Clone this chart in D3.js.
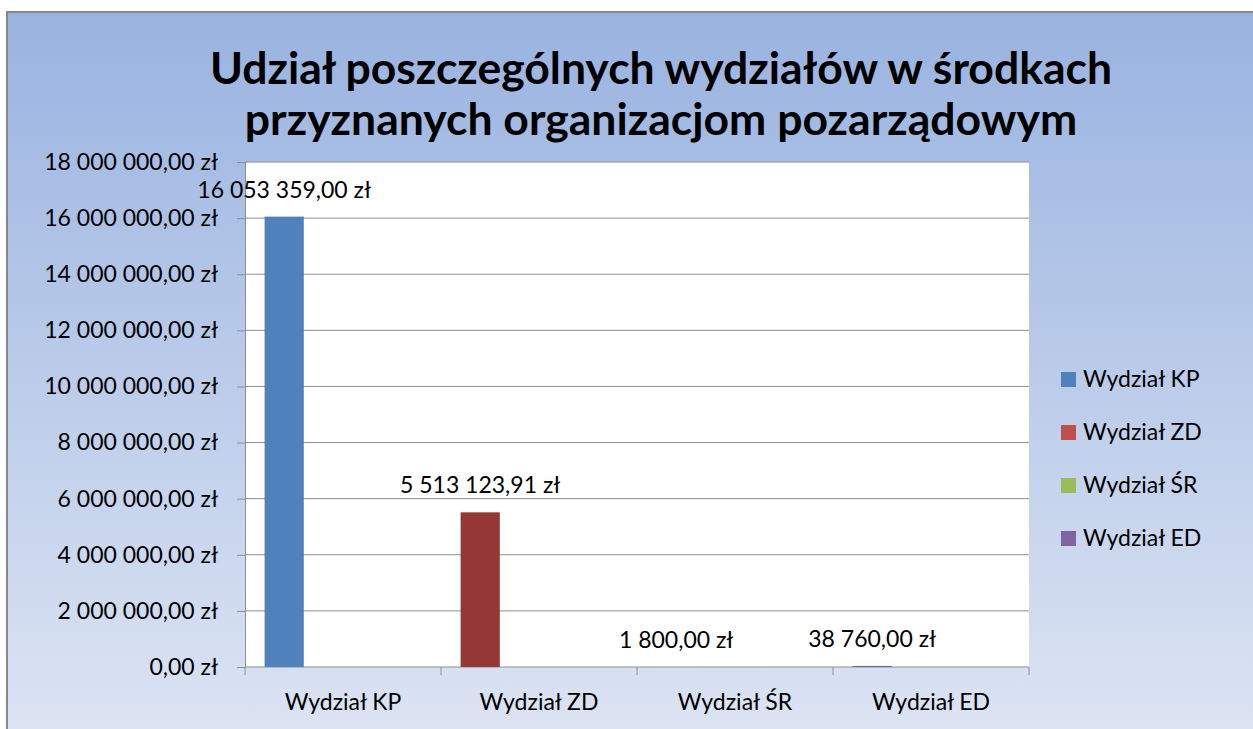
<!DOCTYPE html>
<html>
<head>
<meta charset="utf-8">
<script src="https://cdn.jsdelivr.net/npm/d3@7"></script>
<style>
    body { margin: 0; background: #fff; }
    text { font-family: Lato, "Noto Sans", sans-serif; }
</style>
</head>
<body>
<div id="chart"></div>
<script>
// data
const categories = ["Wydział KP", "Wydział ZD", "Wydział ŚR", "Wydział ED"];
const values = [16053359.00, 5513123.91, 1800.00, 38760.00];
const valueLabels = ["16 053 359,00 zł", "5 513 123,91 zł", "1 800,00 zł", "38 760,00 zł"];
const seriesNames = ["Wydział KP", "Wydział ZD", "Wydział ŚR", "Wydział ED"];
const yTicks = [0, 2000000, 4000000, 6000000, 8000000, 10000000, 12000000, 14000000, 16000000, 18000000];
const titleLines = ["Udział poszczególnych wydziałów w środkach", "przyznanych organizacjom pozarządowym"];

const barColors = ["#4f81bd", "#953735", "#9bbb59", "#8064a2"];
const legendColors = ["#4f81bd", "#c0504d", "#9bbb59", "#8064a2"];

const W = 1253, H = 729;
const margin = { top: 162, right: 224, bottom: 62, left: 245 };
const width = W - margin.left - margin.right;
const height = H - margin.top - margin.bottom;
const fontSize = 23;

const svg = d3.select("#chart").append("svg")
    .attr("width", W)
    .attr("height", H);

// background panel with gradient
const grad = svg.append("defs").append("linearGradient")
    .attr("id", "bg")
    .attr("x1", 0).attr("y1", 0).attr("x2", 0).attr("y2", 1);
grad.append("stop").attr("offset", "0%").attr("stop-color", "#99b3e0");
grad.append("stop").attr("offset", "100%").attr("stop-color", "#dfe6f4");

svg.append("rect")
    .attr("x", 7).attr("y", 12)
    .attr("width", W + 20).attr("height", H + 20)
    .attr("fill", "url(#bg)")
    .attr("stroke", "#878787")
    .attr("stroke-width", 2);

// title
svg.append("text")
    .attr("x", 661)
    .attr("y", 84)
    .attr("text-anchor", "middle")
    .attr("font-size", 44.5)
    .attr("font-weight", "bold")
    .selectAll("tspan")
    .data(titleLines)
    .enter()
    .append("tspan")
    .attr("x", 661)
    .attr("dy", (d, i) => i == 0 ? 0 : 51)
    .text(d => d);

const g = svg.append("g")
    .attr("transform", "translate(" + margin.left + "," + margin.top + ")");

g.append("rect")
    .attr("width", width)
    .attr("height", height)
    .attr("fill", "#fff");

// scales
const x = d3.scaleBand()
    .domain(categories)
    .range([0, width])
    .padding(0);

const x1 = d3.scaleBand()
    .domain(d3.range(seriesNames.length))
    .range([0, x.bandwidth()])
    .paddingInner(0)
    .paddingOuter(0.5);

const y = d3.scaleLinear()
    .domain([0, 18000000])
    .range([height, 0]);

// gridlines
g.selectAll(".grid")
    .data(yTicks.slice(1))
    .enter()
    .append("line")
    .attr("class", "grid")
    .attr("x1", 0).attr("x2", width)
    .attr("y1", d => y(d)).attr("y2", d => y(d))
    .attr("stroke", "#8e8e8e")
    .attr("stroke-width", 1);

// y axis
const yAxis = d3.axisLeft(y)
    .tickValues(yTicks)
    .tickSize(8)
    .tickPadding(19)
    .tickFormat(d => d3.format(",.2f")(d).replace(/,/g, " ").replace(".", ",") + " zł");

const yG = g.append("g").call(yAxis);
yG.select(".domain").attr("stroke", "#8e8e8e");
yG.selectAll(".tick line").attr("stroke", "#8e8e8e");
yG.selectAll(".tick text")
    .attr("font-size", fontSize)
    .attr("font-family", "Lato, sans-serif")
    .attr("fill", "#000");

// x axis, ticks on category boundaries
const xG = g.append("g")
    .attr("transform", "translate(0," + height + ")");
xG.append("line")
    .attr("x1", 0).attr("x2", width)
    .attr("stroke", "#8e8e8e");
xG.selectAll(".xtick")
    .data(categories.concat([null]))
    .enter()
    .append("line")
    .attr("class", "xtick")
    .attr("x1", (d, i) => i * x.bandwidth())
    .attr("x2", (d, i) => i * x.bandwidth())
    .attr("y1", 0).attr("y2", 8)
    .attr("stroke", "#8e8e8e");
xG.selectAll(".xlabel")
    .data(categories)
    .enter()
    .append("text")
    .attr("class", "xlabel")
    .attr("x", d => x(d) + x.bandwidth() / 2)
    .attr("y", 43)
    .attr("text-anchor", "middle")
    .attr("font-size", fontSize)
    .text(d => d);

// bars
g.selectAll(".bar")
    .data(values)
    .enter()
    .append("rect")
    .attr("class", "bar")
    .attr("x", (d, i) => x(categories[i]) + x1(0))
    .attr("width", x1.bandwidth())
    .attr("y", d => y(d))
    .attr("height", d => height - y(d))
    .attr("fill", (d, i) => barColors[i]);

// data labels
g.selectAll(".value-label")
    .data(values)
    .enter()
    .append("text")
    .attr("class", "value-label")
    .attr("x", (d, i) => x(categories[i]) + x1(0) + x1.bandwidth() / 2)
    .attr("y", d => y(d) - 19)
    .attr("text-anchor", "middle")
    .attr("font-size", fontSize)
    .text((d, i) => valueLabels[i]);

// legend
const legend = svg.append("g")
    .attr("transform", "translate(1061,379)");

legend.selectAll("rect")
    .data(seriesNames)
    .enter()
    .append("rect")
    .attr("x", 0)
    .attr("y", (d, i) => i * 53 - 7)
    .attr("width", 15)
    .attr("height", 15)
    .attr("fill", (d, i) => legendColors[i]);

legend.selectAll(".legend-label")
    .data(seriesNames)
    .enter()
    .append("text")
    .attr("class", "legend-label")
    .attr("x", 22)
    .attr("y", (d, i) => i * 53 + 8)
    .attr("font-size", fontSize)
    .text(d => d);
</script>
</body>
</html>
